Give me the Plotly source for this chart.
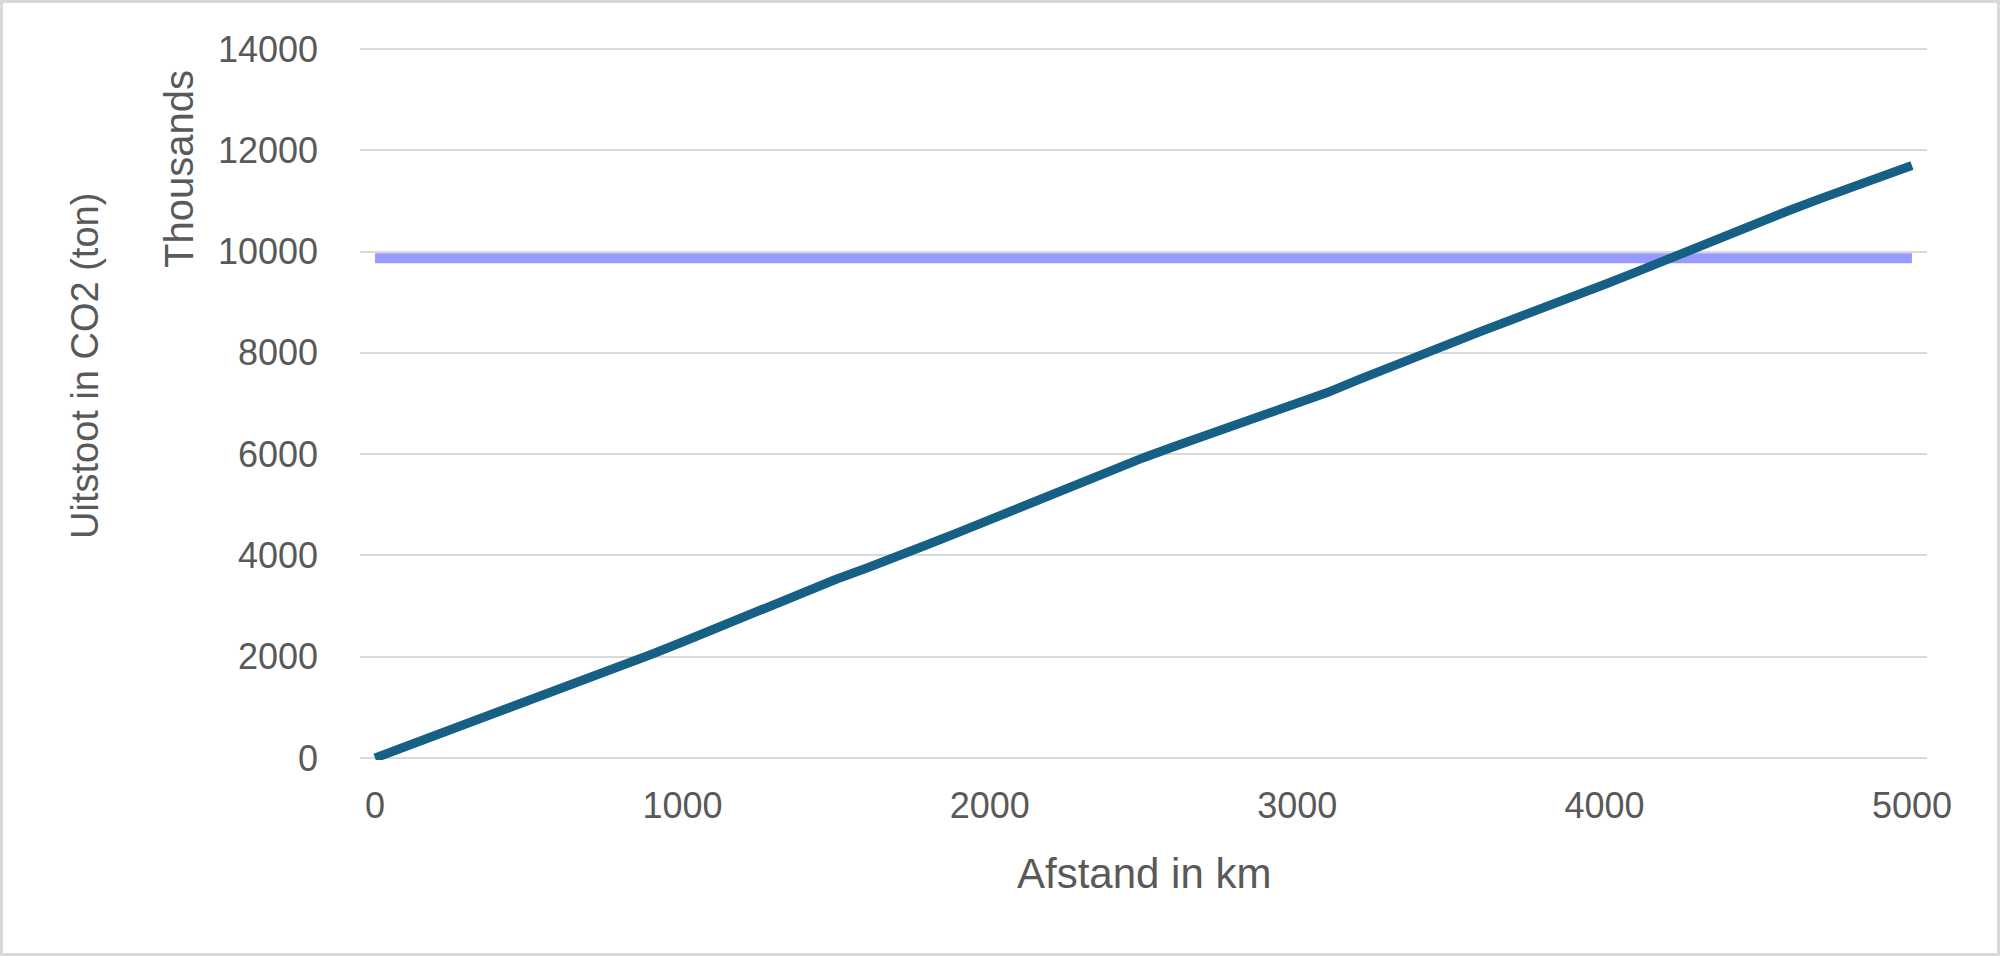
import plotly.graph_objects as go

# Data (y in thousands of ton)
afstand_km = [0, 100, 200, 300, 400, 500, 600, 700, 800, 900,
              1000, 1100, 1200, 1300, 1400, 1500, 1600, 1700, 1800, 1900,
              2000, 2100, 2200, 2300, 2400, 2500, 2600, 2700, 2800, 2900,
              3000, 3100, 3200, 3300, 3400, 3500, 3600, 3700, 3800, 3900,
              4000, 4100, 4200, 4300, 4400, 4500, 4600, 4700, 4800, 4900, 5000]
uitstoot = [0, 225, 455, 680, 890, 1110, 1330, 1560, 1800, 2050,
            2290, 2540, 2800, 3060, 3300, 3530, 3750, 3970, 4220, 4460,
            4710, 4960, 5210, 5460, 5700, 5930, 6150, 6360, 6570, 6770,
            6980, 7220, 7470, 7720, 7960, 8200, 8430, 8660, 8880, 9100,
            9350, 9590, 9840, 10090, 10340, 10580, 10810, 11040, 11260, 11480, 11700]
drempel_x = [0, 5000]
drempel_y = [9870, 9870]

x_ticks = [0, 1000, 2000, 3000, 4000, 5000]
y_ticks = [0, 2000, 4000, 6000, 8000, 10000, 12000, 14000]
y_tick_text = ["0", "2000", "4000", "6000", "8000", "10000", "12000", "14000"]

W, H = 2000, 956
# pixel positions of the plot area (y 0 at 758 px, 14000 at 49 px)
Y0_PX, Y14_PX = 758, 49
unit_per_px = 14000 / (Y0_PX - Y14_PX)
PAD = 2  # extra px on top/bottom so edge gridlines are drawn
L, R = 360, 2000 - 1927
T, B = Y14_PX - PAD, H - Y0_PX - PAD
pw, ph = W - L - R, H - T - B

FONT = "Liberation Sans"
GREY = "#595959"

fig = go.Figure()
fig.add_trace(go.Scatter(x=drempel_x, y=drempel_y, mode="lines",
                         line=dict(color="#9999FF", width=10), hoverinfo="skip",
                         showlegend=False))
fig.add_trace(go.Scatter(x=afstand_km, y=uitstoot, mode="lines",
                         line=dict(color="#176085", width=9), showlegend=False))

def px_x(p):
    return (p - L) / pw

def px_y(p):
    return (H - B - p) / ph

fig.update_layout(
    width=W, height=H, autosize=False,
    margin=dict(l=L, r=R, t=T, b=B),
    paper_bgcolor="white", plot_bgcolor="white",
    font=dict(family=FONT, color=GREY),
    xaxis=dict(range=[-49, 5049], tickvals=x_ticks, showgrid=False, zeroline=False,
               showline=False, ticks="", tickfont=dict(size=36, color=GREY),
               ticklabelstandoff=21),
    yaxis=dict(range=[-PAD * unit_per_px, 14000 + PAD * unit_per_px],
               tickvals=y_ticks, ticktext=y_tick_text, showgrid=True,
               gridcolor="#D9D9D9", gridwidth=2, zeroline=False, showline=False,
               ticks="", tickfont=dict(size=36, color=GREY), ticklabelstandoff=41),
    annotations=[
        dict(text="Afstand in km", xref="paper", yref="paper", x=0.5, y=px_y(873),
             xanchor="center", yanchor="middle", showarrow=False,
             font=dict(size=42, color=GREY, family=FONT)),
        dict(text="Uitstoot in CO2 (ton)", xref="paper", yref="paper", x=px_x(85),
             y=px_y(366), xanchor="center", yanchor="middle", textangle=-90,
             showarrow=False, font=dict(size=38, color=GREY, family=FONT)),
        dict(text="Thousands", xref="paper", yref="paper", x=px_x(179),
             y=px_y(169), xanchor="center", yanchor="middle", textangle=-90,
             showarrow=False, font=dict(size=40, color=GREY, family=FONT)),
    ],
    shapes=[
        dict(type="rect", xref="paper", yref="paper", x0=px_x(1.5), x1=px_x(1998.5),
             y0=px_y(954.5), y1=px_y(1.5), line=dict(color="#D9D9D9", width=3),
             fillcolor="rgba(0,0,0,0)", layer="below"),
    ],
)

fig.write_html("out.html", config={"displayModeBar": False},
               post_script="document.body.style.margin='0';")
